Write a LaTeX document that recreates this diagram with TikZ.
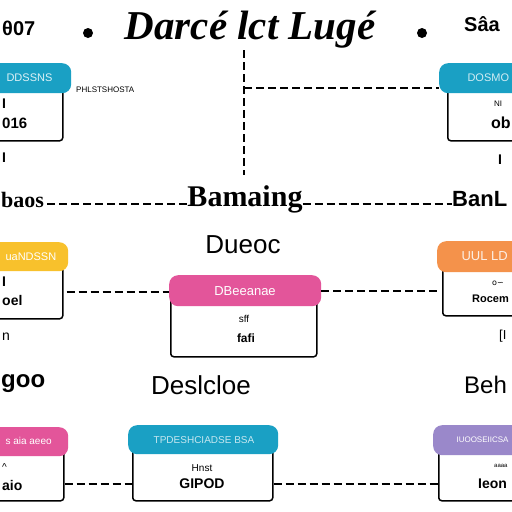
\documentclass[tikz,border=0pt]{standalone}
\usepackage{fontspec}
\setmainfont{Liberation Serif}
\setsansfont{Liberation Sans}
\newfontfamily\djv{DejaVu Sans}
\definecolor{cteal}{HTML}{1AA0C4}
\definecolor{cyellow}{HTML}{F8C12C}
\definecolor{cpink}{HTML}{E3559A}
\definecolor{corange}{HTML}{F4924B}
\definecolor{cpurple}{HTML}{9A88CA}
\begin{document}
\begin{tikzpicture}[x=1pt,y=-1pt,
  hdr/.style={rounded corners=9pt, text=white, font=\sffamily\fontsize{12}{12}\selectfont, inner sep=0pt, anchor=north west},
  bodybox/.style={draw=black, line width=1.5pt, rounded corners=3pt, fill=white, inner sep=0pt, anchor=north west},
  link/.style={line width=1.2pt, dash pattern=on 8pt off 4pt},
  big/.style={font=\bfseries\fontsize{30}{30}\selectfont, inner sep=0pt},
  mid/.style={font=\sffamily\fontsize{26}{26}\selectfont, inner sep=0pt},
  bodytxt/.style={font=\sffamily\bfseries\fontsize{14}{14}\selectfont, inner sep=0pt},
  tiny/.style={font=\sffamily\fontsize{8}{8}\selectfont, inner sep=0pt},
  dotb/.style={circle, fill=black, inner sep=0pt, minimum size=10pt}]
\useasboundingbox (0,0) rectangle (512,512);
\clip (0,0) rectangle (512,512);
\fill[white] (0,0) rectangle (512,512);

% title
\node[font=\itshape\bfseries\fontsize{41}{41}\selectfont, inner sep=0pt] (title) at (250,30) {Darcé lct Lugé};
\node[dotb] (d1) at (88,33) {};
\node[dotb] (d2) at (422,33) {};
\node[font=\sffamily\bfseries\fontsize{20}{20}\selectfont, inner sep=0pt, anchor=west] (tl) at (2,28) {θ07};
\node[font=\sffamily\bfseries\fontsize{20}{20}\selectfont, inner sep=0pt, anchor=west] (tr) at (464,24) {Sâa};

% top-left box
\node[bodybox, minimum width=82pt, minimum height=60pt] (b1) at (-20,80) {};
\node[hdr, fill=cteal, minimum width=91pt, minimum height=30pt] (h1) at (-20,63) {};
\node[text=white!85!cteal, font=\sffamily\fontsize{11}{11}\selectfont, anchor=west] (h1t) at (3,78) {DDSSNS};
\node[tiny, anchor=west] (s1) at (76,90) {PHLSTSHOSTA};
\node[bodytxt, anchor=west] (b1a) at (2,104) {I};
\node[bodytxt, font=\sffamily\bfseries\fontsize{15}{15}\selectfont, anchor=west] (b1b) at (2,123) {016};
\node[bodytxt, anchor=west] (b1c) at (2,158) {I};

% top-right box
\node[bodybox, minimum width=90pt, minimum height=60pt] (b2) at (447,80) {};
\node[hdr, fill=cteal, minimum width=90pt, minimum height=30pt] (h2) at (439,63) {};
\node[text=white!80!cteal, font=\sffamily\fontsize{11}{11}\selectfont, anchor=west] (h2t) at (464,78) {DOSMO};
\node[tiny, anchor=west] (b2a) at (494,104) {NI};
\node[bodytxt, font=\sffamily\bfseries\fontsize{16}{16}\selectfont, anchor=west] (b2b) at (491,123) {ob};
\node[bodytxt, anchor=west] (b2c) at (498,160) {I};

% vertical / top connectors
\coordinate (c0) at (244,88);
\coordinate (c1) at (244,175);
\draw[link] (244,50) -- (c1);
\draw[link] (c0) -- (h2.west |- c0);

% row 1 labels
\node[font=\bfseries\fontsize{22}{22}\selectfont, inner sep=0pt, anchor=west] (l1) at (1,200) {baos};
\node[big] (l2) at (245,199) {Bamaing};
\node[font=\sffamily\bfseries\fontsize{22}{22}\selectfont, inner sep=0pt, anchor=west] (l3) at (452,199) {BanL};
\draw[link] (l1.east |- 0,204) ++(3,0) -- (l2.west |- 0,204);
\draw[link] (l2.east |- 0,204) -- (l3.west |- 0,204);

% row 2
\node[mid] (l4) at (243,245) {Dueoc};

\node[bodybox, minimum width=82pt, minimum height=60pt] (b3) at (-20,258) {};
\node[hdr, fill=cyellow, minimum width=88pt, minimum height=29pt] (h3) at (-20,242) {};
\node[text=white, font=\sffamily\fontsize{11}{11}\selectfont, anchor=west] (h3t) at (2,257) {uaNDSSN};
\node[bodytxt, anchor=west] (b3a) at (2,282) {I};
\node[bodytxt, anchor=west] (b3b) at (2,300) {oel};
\node[font=\sffamily\fontsize{14}{14}\selectfont, inner sep=0pt, anchor=west] (b3c) at (2,337) {n};

\node[bodybox, minimum width=146pt, minimum height=60pt] (b4) at (170,296) {};
\node[hdr, fill=cpink, minimum width=152pt, minimum height=31pt] (h4) at (169,275) {};
\node[text=white, font=\sffamily\fontsize{13}{13}\selectfont] (h4t) at (245,291) {DBeeanae};
\node[tiny, font=\sffamily\fontsize{10}{10}\selectfont] (b4a) at (244,319) {sff};
\node[bodytxt, font=\sffamily\bfseries\fontsize{12}{12}\selectfont] (b4b) at (246,338) {fafi};

\node[bodybox, minimum width=90pt, minimum height=55pt] (b5) at (442,260) {};
\node[hdr, fill=corange, minimum width=90pt, minimum height=31pt] (h5) at (437,241) {};
\node[text=white!85!corange, font=\sffamily\fontsize{13}{13}\selectfont, anchor=west] (h5t) at (458,256) {UUL LD};
\node[tiny, font=\djv\fontsize{8}{8}\selectfont, anchor=west] (b5a) at (492,283) {o∽};
\node[bodytxt, font=\sffamily\bfseries\fontsize{11}{11}\selectfont, anchor=west] (b5b) at (472,299) {Rocem};
\node[bodytxt, font=\sffamily\fontsize{13}{13}\selectfont, anchor=west] (b5c) at (499,336) {[I};

\draw[link] (b3.east |- 0,292) ++(3,0) -- (h4.west |- 0,292);
\draw[link] (h4.east |- 0,291) -- (h5.west |- 0,291);

% row 3 labels
\node[font=\sffamily\bfseries\fontsize{24}{24}\selectfont, inner sep=0pt, anchor=west] (l5) at (1,384) {goo};
\node[mid] (l6) at (201,385) {Deslcloe};
\node[font=\sffamily\fontsize{24}{24}\selectfont, inner sep=0pt, anchor=west] (l7) at (464,385) {Beh};

% bottom-left box
\node[bodybox, minimum width=83pt, minimum height=58pt] (b6) at (-20,442) {};
\node[hdr, fill=cpink, minimum width=88pt, minimum height=29pt] (h6) at (-20,427) {};
\node[text=white, font=\sffamily\fontsize{10}{10}\selectfont, anchor=west] (h6t) at (2,441) {s aia aeeo};
\node[tiny, font=\sffamily\fontsize{10}{10}\selectfont, anchor=west] (b6a) at (2,467) {\^{}};
\node[bodytxt, anchor=west] (b6b) at (2,485) {aio};

% bottom-center box
\node[bodybox, minimum width=140pt, minimum height=60pt] (b7) at (132,440) {};
\node[hdr, fill=cteal, minimum width=150pt, minimum height=29pt] (h7) at (128,425) {};
\node[text=white!75!cteal, font=\sffamily\fontsize{10}{10}\selectfont] (h7t) at (204,440) {TPDESHCIADSE BSA};
\node[tiny, font=\sffamily\fontsize{10}{10}\selectfont] (b7a) at (202,468) {Hnst};
\node[bodytxt, font=\sffamily\bfseries\fontsize{14}{14}\selectfont] (b7b) at (202,484) {GIPOD};

% bottom-right box
\node[bodybox, minimum width=90pt, minimum height=60pt] (b8) at (438,440) {};
\node[hdr, fill=cpurple, minimum width=90pt, minimum height=30pt] (h8) at (433,425) {};
\node[text=white, font=\sffamily\fontsize{8}{8}\selectfont, anchor=west] (h8t) at (453,440) {IUOOSEIICSA};
\node[tiny, font=\sffamily\fontsize{6}{6}\selectfont, anchor=west] (b8a) at (494,466) {aaaa};
\node[bodytxt, font=\sffamily\bfseries\fontsize{14}{14}\selectfont, anchor=west] (b8b) at (478,484) {Ieon};

\draw[link] (b6.east |- 0,484) -- (b7.west |- 0,484);
\draw[link] (b7.east |- 0,484) -- (b8.west |- 0,484);
\end{tikzpicture}
\end{document}
